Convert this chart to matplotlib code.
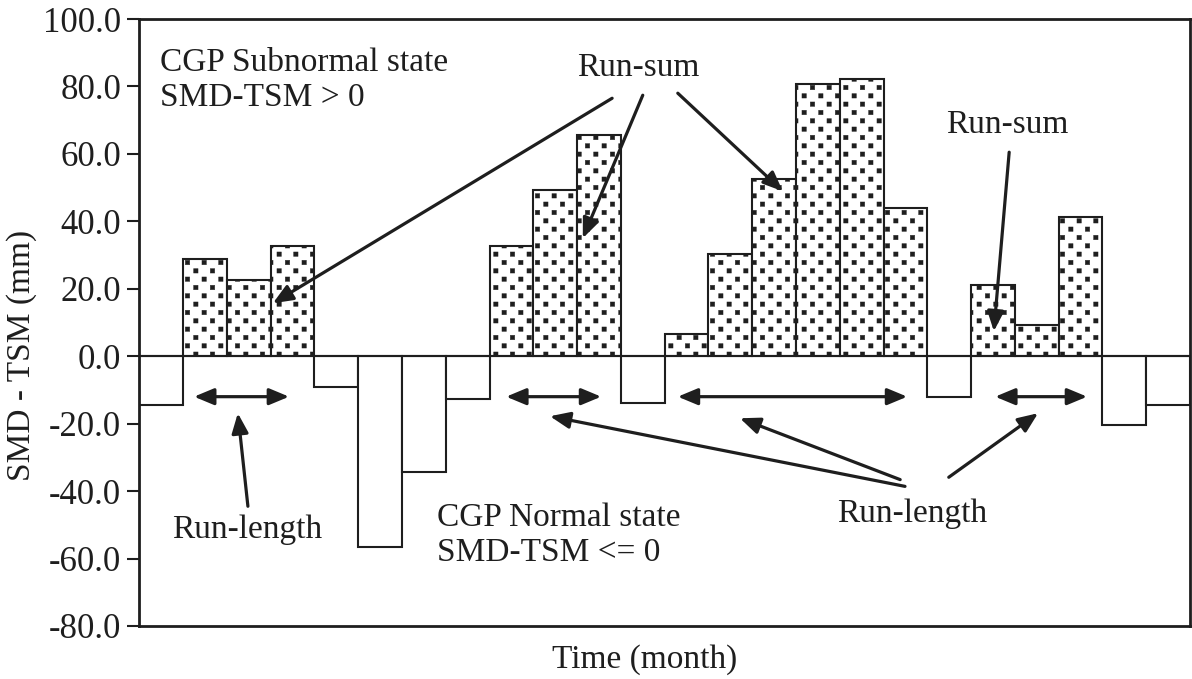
import matplotlib
matplotlib.use("Agg")
import matplotlib.pyplot as plt
import matplotlib.hatch as mhatch
from matplotlib.path import Path

# ---------------- data ----------------
months = list(range(1, 25))
smd_tsm = [-14.5, 28.8, 22.7, 32.7, -9.2, -56.6, -34.3, -12.7,
           32.7, 49.3, 65.7, -13.8, 6.5, 30.2, 52.5, 80.8,
           82.1, 44.0, -12.1, 21.0, 9.2, 41.3, -20.5, -14.6]
yticks = [-80, -60, -40, -20, 0, 20, 40, 60, 80, 100]

# annotation texts (x, y in data units)
label_subnormal = "CGP Subnormal state\nSMD-TSM > 0"
label_normal = "CGP Normal state\nSMD-TSM <= 0"
# run-sum arrows: (tail, head)
runsum_arrows = [((11.30, 76.5), (3.55, 15.7)),
                 ((12.00, 77.4), (10.63, 35.0)),
                 ((12.80, 78.0), (15.20, 48.9)),
                 ((20.37, 60.5), (20.02, 7.4))]
# run-length pointer arrows: (tail, head)
runlen_arrows = [((2.98, -44.5), (2.75, -16.9)),
                 ((17.99, -38.6), (9.88, -17.8)),
                 ((17.88, -36.6), (14.22, -18.4)),
                 ((18.99, -35.9), (21.03, -16.9))]
# double-headed run-length spans
runlen_spans = [(1.75, 3.92), (8.88, 11.05), (12.80, 18.04), (20.05, 22.15)]
span_y = -12.0


# ---------------- square-dot hatch ----------------
class SquareDots(mhatch.HatchPatternBase):
    rows = 12
    cols = 6
    half = 0.022

    def __init__(self, hatch, density):
        self.num_vertices = 5 * self.rows * self.cols if '.' in hatch else 0

    def set_vertices_and_codes(self, vertices, codes):
        k = 0
        h = self.half
        for j in range(self.rows):
            y = (j + 0.5) / self.rows
            for i in range(self.cols):
                x = (i + 0.25 + 0.5 * (j % 2)) / self.cols
                vertices[k:k + 5] = [(x - h, y - h), (x + h, y - h),
                                     (x + h, y + h), (x - h, y + h),
                                     (x - h, y - h)]
                codes[k:k + 5] = [Path.MOVETO, Path.LINETO, Path.LINETO,
                                  Path.LINETO, Path.CLOSEPOLY]
                k += 5


mhatch._hatch_types = [SquareDots if t is mhatch.SmallFilledCircles else t
                       for t in mhatch._hatch_types]

plt.rcParams['font.family'] = ['Liberation Serif', 'DejaVu Serif']
plt.rcParams['hatch.linewidth'] = 0.3
FS = 24
INK = '#1e1e1e'

fig = plt.figure(figsize=(11.92, 6.79), dpi=100)
ax = fig.add_axes([0.1169, 0.0781, 0.8814, 0.8939])

bars = ax.bar(months, smd_tsm, width=1.0, color='white',
              edgecolor=INK, linewidth=1.5, zorder=2)
for b, v in zip(bars, smd_tsm):
    if v > 0:
        b.set_hatch('.')

ax.axhline(0, color=INK, lw=1.5, zorder=3)

ax.set_xlim(0.5, 24.5)
ax.set_ylim(-80, 100)
ax.set_yticks(yticks)
ax.set_yticklabels([f"{t:.1f}" for t in yticks], fontsize=25)
ax.set_xticks([])
ax.tick_params(axis='y', direction='out', length=9, width=1.5,
               color=INK, pad=4, labelcolor=INK)
for s in ax.spines.values():
    s.set_linewidth(2)
    s.set_color(INK)

ax.set_xlabel("Time (month)", fontsize=FS, color=INK)
ax.xaxis.set_label_coords(0.481, -0.030)
ax.set_ylabel("SMD - TSM (mm)", fontsize=FS, color=INK)
ax.yaxis.set_label_coords(-0.097, 0.446)

# texts
ax.text(0.97, 81.9, label_subnormal, fontsize=FS, color=INK,
        ha='left', va='center', linespacing=1.2)
ax.text(7.30, -53.1, label_normal, fontsize=FS, color=INK,
        ha='left', va='center', linespacing=1.2)
ax.text(11.89, 85.4, "Run-sum", fontsize=FS, color=INK, ha='center', va='center')
ax.text(20.32, 68.5, "Run-sum", fontsize=FS, color=INK, ha='center', va='center')
ax.text(2.96, -51.6, "Run-length", fontsize=FS, color=INK, ha='center', va='center')
ax.text(18.15, -46.6, "Run-length", fontsize=FS, color=INK, ha='center', va='center')

aprops = dict(arrowstyle='-|>,head_length=0.6,head_width=0.25', lw=2.3,
              color=INK, shrinkA=0, shrinkB=0, mutation_scale=20)
for tail, head in runsum_arrows + runlen_arrows:
    ax.annotate('', xy=head, xytext=tail, arrowprops=aprops, zorder=5)

dprops = dict(arrowstyle='<|-|>,head_length=0.6,head_width=0.25', lw=2.3,
              color=INK, shrinkA=0, shrinkB=0, mutation_scale=20)
for x0, x1 in runlen_spans:
    ax.annotate('', xy=(x1, span_y), xytext=(x0, span_y), arrowprops=dprops, zorder=5)

fig.savefig("out.png", dpi=100)
